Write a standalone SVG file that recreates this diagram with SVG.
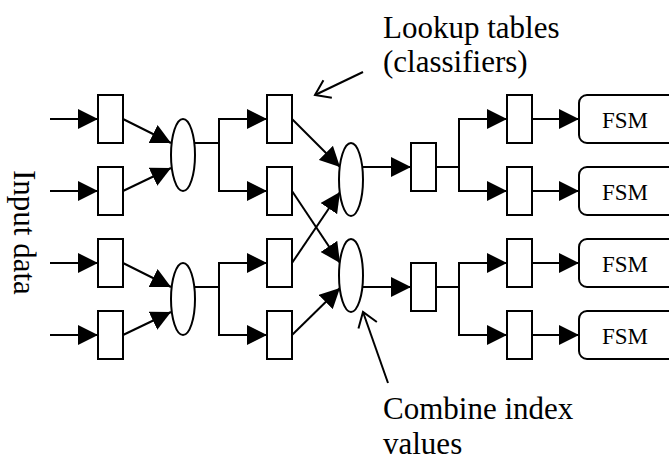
<svg xmlns="http://www.w3.org/2000/svg" width="669" height="461" viewBox="0 0 669 461">
<style>
  .box{fill:#fff;stroke:#000;stroke-width:2}
  .ell{fill:#fff;stroke:#000;stroke-width:2}
  .ln{fill:none;stroke:#000;stroke-width:2}
  .arr{fill:none;stroke:#000;stroke-width:2;marker-end:url(#ah)}
  .call{fill:none;stroke:#000;stroke-width:2;marker-end:url(#open)}
  text{font-family:'Liberation Serif','Times New Roman',Tinos,Times,'DejaVu Serif',serif;fill:#000}
  .lbl{font-size:31px}
  .fsm{font-size:23px}
</style>
<defs>
  <marker id="ah" markerUnits="userSpaceOnUse" markerWidth="20" markerHeight="20" viewBox="0 0 20 20" refX="20" refY="10" orient="auto">
    <path d="M0,0 L20,10 L0,20 z" fill="#000"/>
  </marker>
  <marker id="open" markerUnits="userSpaceOnUse" markerWidth="20" markerHeight="24" viewBox="0 0 20 24" refX="17" refY="12" orient="auto">
    <path d="M3,2.25 L17,12 L3,21.75" fill="none" stroke="#000" stroke-width="2"/>
  </marker>
</defs>

<g id="connectors">
  <line class="arr" x1="50" y1="119" x2="98" y2="119"/>
  <line class="arr" x1="50" y1="191" x2="98" y2="191"/>
  <line class="arr" x1="50" y1="263" x2="98" y2="263"/>
  <line class="arr" x1="50" y1="335" x2="98" y2="335"/>
  <line class="arr" x1="123" y1="119" x2="171" y2="143"/>
  <line class="arr" x1="123" y1="191" x2="171" y2="168"/>
  <line class="arr" x1="123" y1="263" x2="171" y2="287"/>
  <line class="arr" x1="123" y1="335" x2="171" y2="312"/>
  <path class="ln" d="M195,143 H219 M219,119 V191 M195,287 H219 M219,263 V335"/>
  <line class="arr" x1="218" y1="119" x2="267" y2="119"/>
  <line class="arr" x1="218" y1="191" x2="267" y2="191"/>
  <line class="arr" x1="218" y1="263" x2="267" y2="263"/>
  <line class="arr" x1="218" y1="335" x2="267" y2="335"/>
  <line class="arr" x1="292" y1="119" x2="340" y2="167"/>
  <line class="arr" x1="292" y1="263" x2="340" y2="192"/>
  <line class="arr" x1="292" y1="191" x2="340" y2="263"/>
  <line class="arr" x1="292" y1="335" x2="340" y2="288"/>
  <line class="arr" x1="363" y1="167" x2="411" y2="167"/>
  <line class="arr" x1="363" y1="287" x2="411" y2="287"/>
  <path class="ln" d="M436,167 H459 M459,119 V191 M436,287 H459 M459,263 V335"/>
  <line class="arr" x1="458" y1="119" x2="507" y2="119"/>
  <line class="arr" x1="458" y1="191" x2="507" y2="191"/>
  <line class="arr" x1="458" y1="263" x2="507" y2="263"/>
  <line class="arr" x1="458" y1="335" x2="507" y2="335"/>
  <line class="arr" x1="532" y1="119" x2="579" y2="119"/>
  <line class="arr" x1="532" y1="191" x2="579" y2="191"/>
  <line class="arr" x1="532" y1="263" x2="579" y2="263"/>
  <line class="arr" x1="532" y1="335" x2="579" y2="335"/>
  <line class="call" x1="363" y1="72" x2="315" y2="95"/>
  <line class="call" x1="388" y1="383" x2="363" y2="312"/>
</g>

<g id="col1">
  <rect id="b1a" class="box" x="98" y="95" width="25" height="48"/>
  <rect id="b1b" class="box" x="98" y="167" width="25" height="48"/>
  <rect id="b1c" class="box" x="98" y="239" width="25" height="48"/>
  <rect id="b1d" class="box" x="98" y="311" width="25" height="48"/>
</g>
<g id="comb1"><ellipse class="ell" cx="183" cy="155" rx="12" ry="36"/></g>
<g id="comb2"><ellipse class="ell" cx="183" cy="299" rx="12" ry="36"/></g>
<g id="col2">
  <rect id="b2a" class="box" x="267" y="95" width="25" height="48"/>
  <rect id="b2b" class="box" x="267" y="167" width="25" height="48"/>
  <rect id="b2c" class="box" x="267" y="239" width="25" height="48"/>
  <rect id="b2d" class="box" x="267" y="311" width="25" height="48"/>
</g>
<g id="comb3"><ellipse class="ell" cx="351" cy="179.5" rx="12" ry="36.5"/></g>
<g id="comb4"><ellipse class="ell" cx="351" cy="275.5" rx="12" ry="36.5"/></g>
<g id="col3">
  <rect id="b3a" class="box" x="411" y="143" width="25" height="48"/>
  <rect id="b3b" class="box" x="411" y="263" width="25" height="48"/>
</g>
<g id="col4">
  <rect id="b4a" class="box" x="507" y="95" width="25" height="48"/>
  <rect id="b4b" class="box" x="507" y="167" width="25" height="48"/>
  <rect id="b4c" class="box" x="507" y="239" width="25" height="48"/>
  <rect id="b4d" class="box" x="507" y="311" width="25" height="48"/>
</g>
<g id="fsm1"><rect class="box" x="579" y="95" width="110" height="48" rx="8"/><text class="fsm" x="602" y="128">FSM</text></g>
<g id="fsm2"><rect class="box" x="579" y="167" width="110" height="48" rx="8"/><text class="fsm" x="602" y="200">FSM</text></g>
<g id="fsm3"><rect class="box" x="579" y="239" width="110" height="48" rx="8"/><text class="fsm" x="602" y="272">FSM</text></g>
<g id="fsm4"><rect class="box" x="579" y="311" width="110" height="48" rx="8"/><text class="fsm" x="602" y="344">FSM</text></g>

<g id="label-input"><text class="lbl" transform="translate(14,170) rotate(90)">Input data</text></g>
<g id="label-lookup">
  <text class="lbl" x="383" y="38">Lookup tables</text>
  <text class="lbl" x="383" y="72">(classifiers)</text>
</g>
<g id="label-combine">
  <text class="lbl" x="383" y="419">Combine index</text>
  <text class="lbl" x="383" y="454">values</text>
</g>
</svg>
